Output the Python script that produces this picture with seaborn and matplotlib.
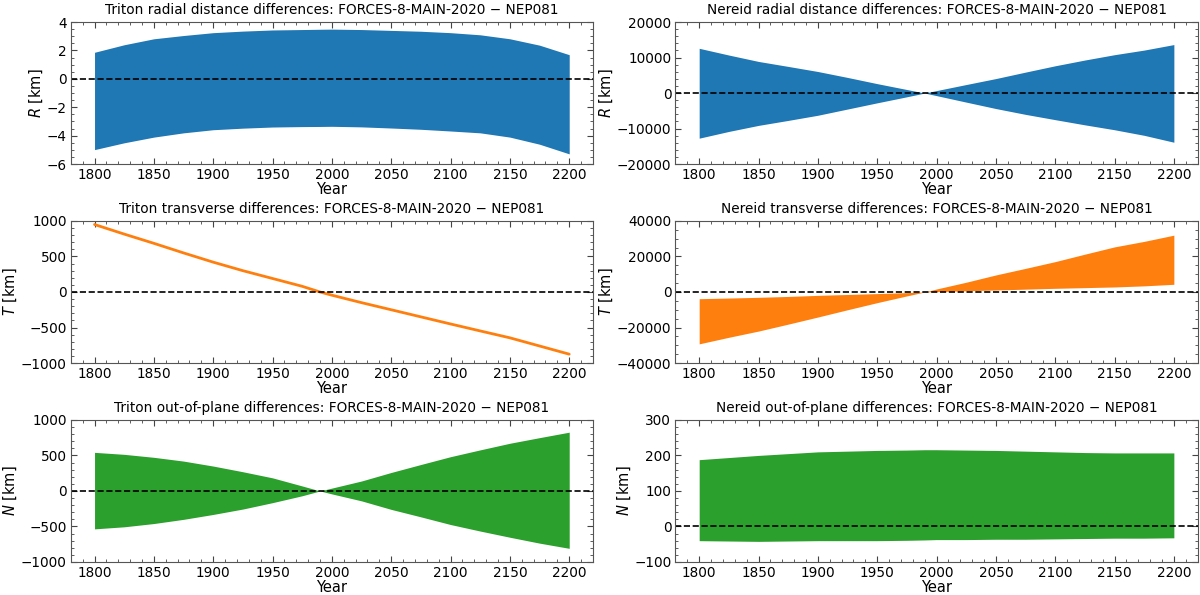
import matplotlib
matplotlib.use('AGG')

import matplotlib.pyplot as plt
from matplotlib.ticker import AutoMinorLocator, MultipleLocator
import seaborn as sns

# envelope samples (years, km)
years = [1800, 1825, 1850, 1875, 1900, 1925, 1950, 1975, 1990,
         2000, 2025, 2050, 2075, 2100, 2125, 2150, 2175, 2200]

triton_r_hi = [1.87, 2.4, 2.82, 3.05, 3.25, 3.36, 3.44, 3.47, 3.49,
               3.5, 3.47, 3.41, 3.35, 3.25, 3.1, 2.82, 2.37, 1.7]
triton_r_lo = [-4.98, -4.5, -4.1, -3.8, -3.58, -3.47, -3.39, -3.36, -3.35,
               -3.34, -3.38, -3.46, -3.55, -3.67, -3.8, -4.1, -4.6, -5.28]

triton_t = [950, 815, 685, 550, 420, 300, 190, 80, 0,
            -45, -150, -250, -350, -450, -548, -645, -760, -875]

triton_n_hi = [543, 515, 473, 420, 350, 270, 184, 70, 0,
               40, 140, 260, 372, 482, 578, 671, 750, 827]
triton_n_lo = [-534, -505, -459, -400, -331, -255, -165, -68, 0,
               -42, -140, -260, -365, -473, -565, -652, -735, -808]

nereid_r_hi = [12600, 10700, 8900, 7500, 6070, 4400, 2650, 1000, 0,
               700, 2400, 4080, 5900, 7680, 9300, 10800, 12100, 13650]
nereid_r_lo = [-12700, -10800, -9100, -7700, -6250, -4500, -2750, -1050, 0,
               -720, -2550, -4360, -6000, -7490, -8950, -10330, -11900, -13840]

nereid_t_hi = [-3770, -3400, -3000, -2500, -1900, -1400, -900, -350, 0,
               1700, 5500, 9600, 13300, 17100, 21300, 25400, 28500, 32000]
nereid_t_lo = [-29200, -25500, -22000, -18100, -14100, -10000, -6000, -2200, 0,
               200, 700, 1130, 1600, 2070, 2450, 2830, 3450, 4330]

nereid_n_hi = [188, 194, 200, 205, 210, 212, 214, 215, 216,
               216, 215, 214, 212, 210, 208, 207, 207, 207]
nereid_n_lo = [-40, -41, -42, -41, -40, -40, -40, -39, -38,
               -37, -37, -36, -36, -35, -34, -33, -33, -32]

titles = [
    'Triton radial distance differences: FORCES-8-MAIN-2020 \u2212 NEP081',
    'Nereid radial distance differences: FORCES-8-MAIN-2020 \u2212 NEP081',
    'Triton transverse differences: FORCES-8-MAIN-2020 \u2212 NEP081',
    'Nereid transverse differences: FORCES-8-MAIN-2020 \u2212 NEP081',
    'Triton out-of-plane differences: FORCES-8-MAIN-2020 \u2212 NEP081',
    'Nereid out-of-plane differences: FORCES-8-MAIN-2020 \u2212 NEP081',
]
ylabels = [r'$R$ [km]', r'$R$ [km]', r'$T$ [km]', r'$T$ [km]', r'$N$ [km]', r'$N$ [km]']
ylims = [(-6, 4), (-20000, 20000), (-1000, 1000), (-40000, 40000), (-1000, 1000), (-100, 300)]
ysteps = [2, 10000, 500, 20000, 500, 100]

sns.set_style('ticks', {'xtick.direction': 'in', 'ytick.direction': 'in'})
plt.rcParams['font.family'] = ['DejaVu Sans']
plt.rcParams['mathtext.fontset'] = 'dejavusans'

fig, axes = plt.subplots(3, 2, figsize=(12, 5.95), dpi=100)
fig.subplots_adjust(left=0.059, right=0.998, top=0.963, bottom=0.0555,
                    hspace=0.40, wspace=0.158)
axes = axes.ravel()

bands = [
    (triton_r_lo, triton_r_hi, 'C0'),
    (nereid_r_lo, nereid_r_hi, 'C0'),
    None,
    (nereid_t_lo, nereid_t_hi, 'C1'),
    (triton_n_lo, triton_n_hi, 'C2'),
    (nereid_n_lo, nereid_n_hi, 'C2'),
]

for i, ax in enumerate(axes):
    if bands[i] is None:
        sns.lineplot(x=years, y=triton_t, ax=ax, color='C1', lw=2)
    else:
        lo, hi, c = bands[i]
        ax.fill_between(years, lo, hi, color=c, lw=0)
    ax.axhline(0, color='k', ls='--', lw=1.2)
    ax.set_xlim(1780, 2220)
    ax.set_ylim(*ylims[i])
    ax.set_xticks([1800, 1850, 1900, 1950, 2000, 2050, 2100, 2150, 2200])
    ax.yaxis.set_major_locator(MultipleLocator(ysteps[i]))
    ax.xaxis.set_minor_locator(AutoMinorLocator(5))
    ax.yaxis.set_minor_locator(AutoMinorLocator())
    ax.tick_params(which='both', direction='in', top=True, right=True,
                   labelsize=9.8, color='#444444', labelcolor='black', pad=3)
    ax.tick_params(which='major', length=4)
    ax.tick_params(which='minor', length=2)
    ax.set_title(titles[i], fontsize=9.8, color='black')
    ax.set_ylabel(ylabels[i], fontsize=10.5, labelpad=1, color='black')
    ax.set_xlabel('Year', fontsize=10.5, labelpad=0, color='black')
    for s in ax.spines.values():
        s.set_color('#555555')

fig.savefig('out.png', dpi=100)
